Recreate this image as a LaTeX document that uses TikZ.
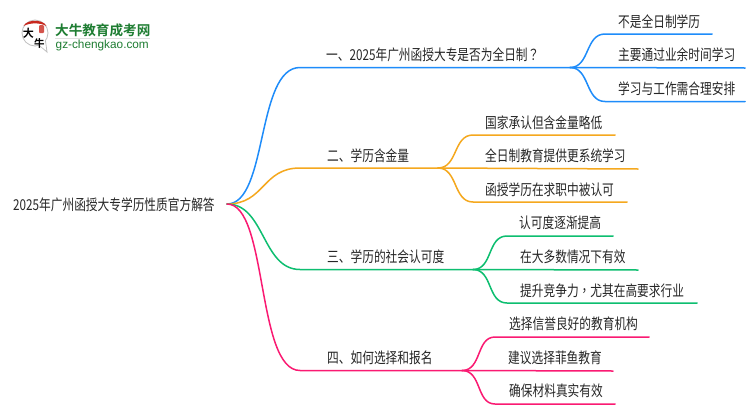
\documentclass[tikz,border=0pt]{standalone}
\usepackage{fontspec}
\setmainfont{Noto Sans CJK SC}[FakeStretch=0.78]
\newfontfamily\punctfont{Noto Sans CJK TC}[FakeStretch=0.78]
\newfontfamily\logofont{Noto Sans CJK SC Bold}
\newfontfamily\latinlogo{Liberation Sans}
\definecolor{blueline}{HTML}{1E8CFA}
\definecolor{orangeline}{HTML}{F5A81E}
\definecolor{greenline}{HTML}{0DBE70}
\definecolor{pinkline}{HTML}{FA1A72}
\definecolor{logogreen}{HTML}{1E7D32}
\definecolor{logored}{HTML}{C8281E}
\tikzset{
  label/.style={anchor=west, inner sep=0pt, text=black!85, font=\fontsize{15}{15}\selectfont},
  branch/.style={line width=1.5pt, line cap=round},
}
\begin{document}
\begin{tikzpicture}[x=1pt, y=-1pt]
   \useasboundingbox[fill=white] (0,0) rectangle (750,410);
   % logo
   \draw[black!25, fill=white, line width=0.8pt] (35,33) circle (13);
   \draw[black!25, fill=white, line width=0.8pt] (39,45) -- (47,52) -- (45.5,41);
   \fill[white] (37,43) -- (45.8,50) -- (44.5,39) -- cycle;
   \fill[logored] (23.5,26) .. controls (27,19) and (43,19) .. (46.5,26) .. controls (40,22.5) and (30,22.5) .. (23.5,26) -- cycle;
   \fill[logored!80, rounded corners=1pt] (39,25) rectangle (44,33);
   \node (logomark) at (28.5,33.5) [inner sep=0pt, text=black, font=\logofont\fontsize{11}{11}\selectfont] {大};
   \node (logomark2) at (39.5,44) [inner sep=0pt, text=black, font=\logofont\fontsize{10.5}{10.5}\selectfont] {牛};
   \node (logotitle) at (55,30) [anchor=west, inner sep=0pt, text=logogreen, font=\logofont\fontsize{13.6}{14}\selectfont] {大牛教育成考网};
   \node (logosite) at (55.5,45) [anchor=west, inner sep=0pt, text=logogreen, font=\latinlogo\fontsize{11.8}{12}\selectfont] {gz-chengkao.com};
   \draw[black!12, line width=0.5pt] (55,38.5) -- (150,38.5);
   % root
   \node[label] (root) at (13,205) {2025年广州函授大专学历性质官方解答};
   \coordinate (hub) at (227,204);
   % blue
   \coordinate (bluea) at (300,67.5);
   \coordinate (bluej) at (570,67.5);
   \coordinate (blue1a) at (605,34);
   \coordinate (blue1b) at (712,34);
   \coordinate (blue2b) at (745,68);
   \coordinate (blue3a) at (605,101.5);
   \coordinate (blue3b) at (745,101.5);
   \draw[branch, blueline] (hub) .. controls (268,204) and (256,67.5) .. (bluea) -- (bluej);
   \draw[branch, blueline] (bluej) .. controls (590,67.5) and (585,34) .. (blue1a) -- (blue1b);
   \draw[branch, blueline] (bluej) -- (blue2b);
   \draw[branch, blueline] (bluej) .. controls (590,67.5) and (585,101.5) .. (blue3a) -- (blue3b);
   \node[label] (blue) at (326,55) {一、2025年广州函授大专是否为全日制{\punctfont ？}};
   \node[label] (blue1) at (618,21.5) {不是全日制学历};
   \node[label] (blue2) at (618,55) {主要通过业余时间学习};
   \node[label] (blue3) at (618,89) {学习与工作需合理安排};
   % orange
   \coordinate (orangea) at (300,168);
   \coordinate (orangej) at (438,168);
   \coordinate (orange1a) at (473,135);
   \coordinate (orange1b) at (615,135);
   \coordinate (orange2b) at (638,169);
   \coordinate (orange3a) at (473,202);
   \coordinate (orange3b) at (627,202);
   \draw[branch, orangeline] (hub) .. controls (265,204) and (262,168) .. (orangea) -- (orangej);
   \draw[branch, orangeline] (orangej) .. controls (458,168) and (453,135) .. (orange1a) -- (orange1b);
   \draw[branch, orangeline] (orangej) -- (orange2b);
   \draw[branch, orangeline] (orangej) .. controls (458,168) and (453,202) .. (orange3a) -- (orange3b);
   \node[label] (orange) at (327,156) {二、学历含金量};
   \node[label] (orange1) at (485,123) {国家承认但含金量略低};
   \node[label] (orange2) at (485,156) {全日制教育提供更系统学习};
   \node[label] (orange3) at (485,190) {函授学历在求职中被认可};
   % green
   \coordinate (greena) at (300,269.5);
   \coordinate (greenj) at (473,269.5);
   \coordinate (green1a) at (507,236);
   \coordinate (green1b) at (613,236);
   \coordinate (green2b) at (638,270);
   \coordinate (green3a) at (507,303);
   \coordinate (green3b) at (697,303);
   \draw[branch, greenline] (hub) .. controls (265,204) and (262,269.5) .. (greena) -- (greenj);
   \draw[branch, greenline] (greenj) .. controls (493,269.5) and (487,236) .. (green1a) -- (green1b);
   \draw[branch, greenline] (greenj) -- (green2b);
   \draw[branch, greenline] (greenj) .. controls (493,269.5) and (487,303) .. (green3a) -- (green3b);
   \node[label] (green) at (327,257) {三、学历的社会认可度};
   \node[label] (green1) at (519,223) {认可度逐渐提高};
   \node[label] (green2) at (520,257) {在大多数情况下有效};
   \node[label] (green3) at (520,291) {提升竞争力{\punctfont ，}尤其在高要求行业};
   % pink
   \coordinate (pinka) at (300,370.5);
   \coordinate (pinkj) at (462,370.5);
   \coordinate (pink1a) at (495,337);
   \coordinate (pink1b) at (649,337);
   \coordinate (pink2b) at (613,371);
   \coordinate (pink3a) at (495,404);
   \coordinate (pink3b) at (615,404);
   \draw[branch, pinkline] (hub) .. controls (268,204) and (256,370.5) .. (pinka) -- (pinkj);
   \draw[branch, pinkline] (pinkj) .. controls (482,370.5) and (476,337) .. (pink1a) -- (pink1b);
   \draw[branch, pinkline] (pinkj) -- (pink2b);
   \draw[branch, pinkline] (pinkj) .. controls (482,370.5) and (476,404) .. (pink3a) -- (pink3b);
   \node[label] (pink) at (327,358) {四、如何选择和报名};
   \node[label] (pink1) at (509,324) {选择信誉良好的教育机构};
   \node[label] (pink2) at (508,358) {建议选择菲鱼教育};
   \node[label] (pink3) at (509,391) {确保材料真实有效};
\end{tikzpicture}
\end{document}
